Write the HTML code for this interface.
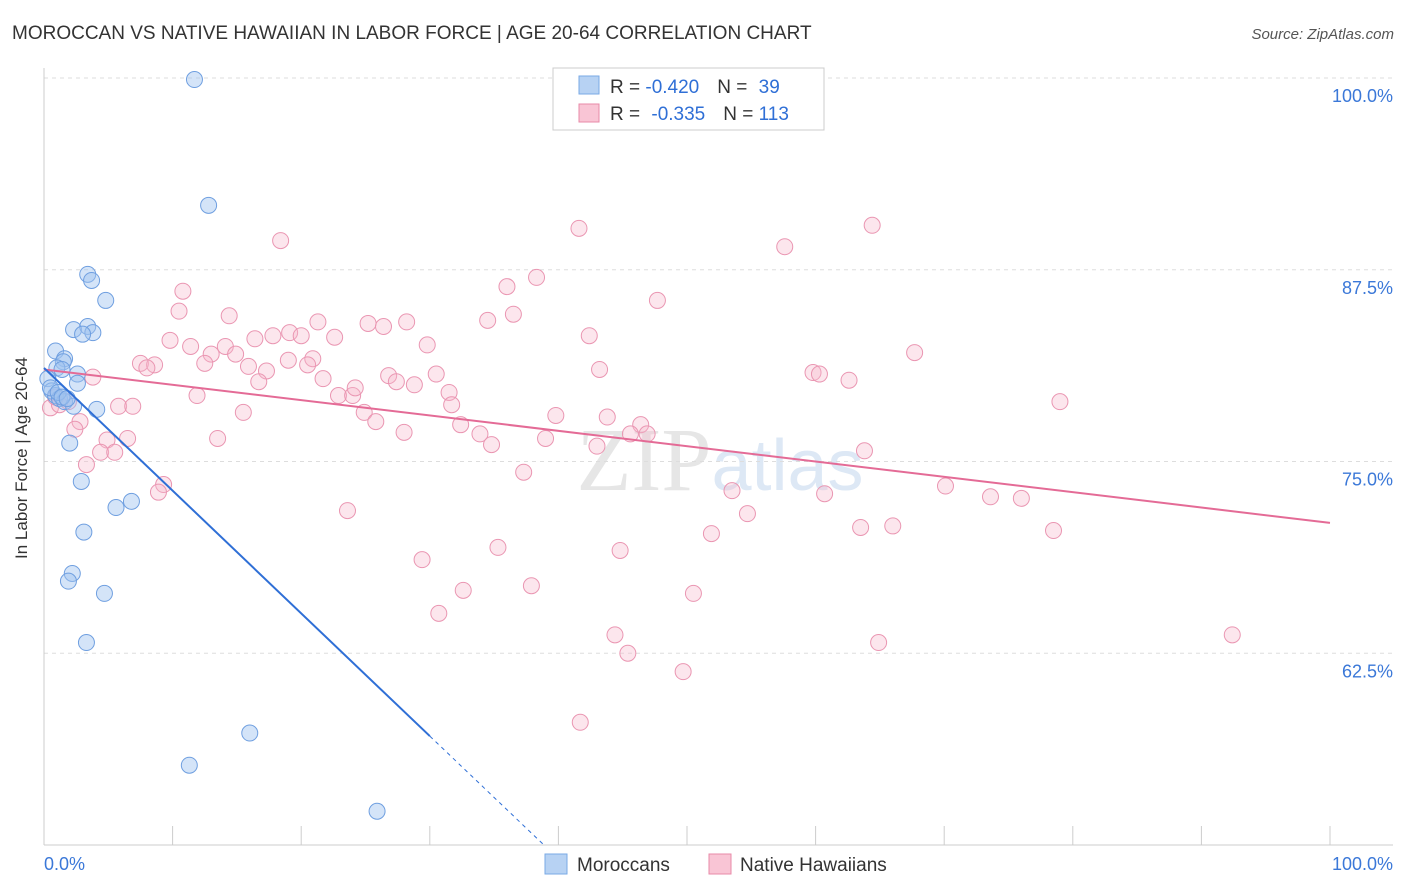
<!DOCTYPE html>
<html><head><meta charset="utf-8"><style>
body{margin:0;background:#fff;font-family:"Liberation Sans",sans-serif}
svg{display:block}
</style></head><body>
<svg id="chart" width="1406" height="892">
<text x="12" y="39" font-size="19" fill="#333">MOROCCAN VS NATIVE HAWAIIAN IN LABOR FORCE | AGE 20-64 CORRELATION CHART</text>
<text x="1394" y="39" font-size="15" fill="#555" font-style="italic" text-anchor="end">Source: ZipAtlas.com</text>
<text x="720" y="490" font-size="90" fill="#e6e6e6" text-anchor="middle" font-family="Liberation Serif">ZIP<tspan fill="#dde8f5" font-family="Liberation Sans" font-size="72">atlas</tspan></text>
<g id="grid"></g><g id="axes"></g><g id="pts"></g><g id="lines"></g>
<text x="27" y="458" font-size="17" fill="#333" text-anchor="middle" transform="rotate(-90 27 458)">In Labor Force | Age 20-64</text>
<g>
<rect x="553" y="68" width="271" height="62" fill="#fff" stroke="#ccc"/>
<rect x="579" y="76" width="20" height="18" fill="#b7d2f3" stroke="#7aaae6"/>
<rect x="579" y="104" width="20" height="18" fill="#f9c5d5" stroke="#e88aa8"/>
<text x="610" y="93" font-size="19" fill="#333">R = <tspan fill="#2f6fd6">-0.420</tspan><tspan dx="18">N = </tspan><tspan fill="#2f6fd6" dx="6">39</tspan></text>
<text x="610" y="120" font-size="19" fill="#333">R = <tspan fill="#2f6fd6" dx="6">-0.335</tspan><tspan dx="18">N = </tspan><tspan fill="#2f6fd6">113</tspan></text>
</g>
<g>
<rect x="545" y="854" width="22" height="20" fill="#b7d2f3" stroke="#7aaae6"/>
<text x="577" y="871" font-size="19" fill="#333">Moroccans</text>
<rect x="709" y="854" width="22" height="20" fill="#f9c5d5" stroke="#e88aa8"/>
<text x="740" y="871" font-size="19" fill="#333">Native Hawaiians</text>
</g>
</svg>
<script>
const yTicks=[100,87.5,75,62.5];
const yTickLabels=["100.0%","87.5%","75.0%","62.5%"];
const blueX=[11.7,12.8,3.4,3.7,4.8,2.3,3.4,3.8,3.0,0.9,1.6,1.5,1.0,1.4,2.6,0.3,2.6,0.6,0.9,1.2,1.6,2.3,4.1,2.0,2.9,5.6,6.8,3.1,2.2,1.9,4.7,3.3,16.0,11.3,25.9,0.5,1.1,1.4,1.8];
const blueY=[99.9,91.7,87.2,86.8,85.5,83.6,83.8,83.4,83.3,82.2,81.7,81.5,81.1,81.0,80.7,80.4,80.1,79.6,79.3,79.1,78.9,78.6,78.4,76.2,73.7,72.0,72.4,70.4,67.7,67.2,66.4,63.2,57.3,55.2,52.2,79.8,79.5,79.2,79.1];
const pinkX=[18.4,41.6,64.4,57.6,38.3,36.0,10.8,47.7,10.5,14.4,34.5,36.5,21.3,25.2,26.4,28.2,42.4,9.8,11.4,14.1,16.4,17.8,19.1,20.0,22.6,29.8,67.7,13.0,14.9,19.0,20.9,12.5,7.5,8.6,8.0,20.5,15.9,17.3,43.2,59.8,60.3,62.6,3.8,21.7,26.8,27.4,30.5,28.8,16.7,11.9,22.9,24.0,24.2,31.5,79.0,5.8,6.9,31.7,15.5,24.9,39.8,43.8,2.8,25.8,32.4,46.4,2.4,45.6,46.9,28.0,33.9,39.0,34.8,43.0,4.9,6.5,13.5,4.4,5.5,3.3,63.8,37.3,9.3,8.9,53.5,60.7,70.1,73.6,76.0,23.6,54.7,63.5,66.0,78.5,51.9,35.3,44.8,29.4,37.9,32.6,50.5,30.7,44.4,92.4,64.9,45.4,49.7,41.7,0.5,1.2,1.9,0.9];
const pinkY=[89.4,90.2,90.4,89.0,87.0,86.4,86.1,85.5,84.8,84.5,84.2,84.6,84.1,84.0,83.8,84.1,83.2,82.9,82.5,82.5,83.0,83.2,83.4,83.2,83.1,82.6,82.1,82.0,82.0,81.6,81.7,81.4,81.4,81.3,81.1,81.3,81.2,80.9,81.0,80.8,80.7,80.3,80.5,80.4,80.6,80.2,80.7,80.0,80.2,79.3,79.3,79.3,79.8,79.5,78.9,78.6,78.6,78.7,78.2,78.2,78.0,77.9,77.6,77.6,77.4,77.4,77.1,76.8,76.8,76.9,76.8,76.5,76.1,76.0,76.4,76.5,76.5,75.6,75.6,74.8,75.7,74.3,73.5,73.0,73.1,72.9,73.4,72.7,72.6,71.8,71.6,70.7,70.8,70.5,70.3,69.4,69.2,68.6,66.9,66.6,66.4,65.1,63.7,63.7,63.2,62.5,61.3,58.0,78.5,78.7,78.9,79.2];
const blueTrend=[81.1,-0.80];
const pinkTrend=[81.0,-0.10];
const NS="http://www.w3.org/2000/svg";
const X0=44,X1=1330,Y0=845,Y1=78,YMIN=50,YMAX=100;
const sx=v=>X0+(v/100)*(X1-X0);
const sy=v=>Y0-(v-YMIN)/(YMAX-YMIN)*(Y0-Y1);
function mk(t,a,p){const e=document.createElementNS(NS,t);for(const k in a)e.setAttribute(k,a[k]);p.appendChild(e);return e;}
const grid=document.getElementById('grid'),axes=document.getElementById('axes'),pts=document.getElementById('pts'),lines=document.getElementById('lines');
yTicks.forEach((t,i)=>{
 const l=mk('line',{x1:X0,x2:1393,y1:sy(t),y2:sy(t),stroke:'#ddd','stroke-dasharray':'4,4'},grid);
 
 
 const tx=mk('text',{x:1393,y:sy(t)+24,'font-size':18,fill:'#3b78d8','text-anchor':'end'},grid);
 tx.textContent=yTickLabels[i];
 
 
});
const ax=mk('line',{x1:X0,x2:1393,y1:Y0,y2:Y0,stroke:'#ccc'},axes);


const ay=mk('line',{x1:X0,x2:X0,y1:68,y2:Y0,stroke:'#ccc'},axes);


for(let i=0;i<=10;i++){
 const tk=mk('line',{x1:sx(i*10),x2:sx(i*10),y1:826,y2:Y0,stroke:'#ccc'},axes);
 
 
}
[["0.0%",X0,'start'],["100.0%",1393,'end']].forEach(d=>{
 const t=mk('text',{x:d[1],y:870,'font-size':18,fill:'#3b78d8','text-anchor':d[2]},axes);
 t.textContent=d[0];
 
 
});
pinkX.forEach((v,i)=>{
 const c=mk('circle',{cx:sx(v),cy:sy(pinkY[i]),r:8,fill:'rgba(247,182,203,0.35)',stroke:'#ea96b2','stroke-width':1},pts);
 
 
});
blueX.forEach((v,i)=>{
 const c=mk('circle',{cx:sx(v),cy:sy(blueY[i]),r:8,fill:'rgba(160,196,240,0.45)',stroke:'#6f9fe0','stroke-width':1},pts);
 
 
});
const pl=mk('line',{x1:sx(0),y1:sy(pinkTrend[0]),x2:sx(100),y2:sy(pinkTrend[0]+pinkTrend[1]*100),stroke:'#e46b96','stroke-width':2},lines);


const bEnd=30, xz=(YMIN-blueTrend[0])/blueTrend[1];
const bl=mk('line',{x1:sx(0),y1:sy(blueTrend[0]),x2:sx(bEnd),y2:sy(blueTrend[0]+blueTrend[1]*bEnd),stroke:'#2f6fd6','stroke-width':2},lines);


const bd=mk('line',{x1:sx(bEnd),y1:sy(blueTrend[0]+blueTrend[1]*bEnd),x2:sx(xz),y2:sy(YMIN),stroke:'#2f6fd6','stroke-width':1,'stroke-dasharray':'4,4'},lines);


</script>
</body></html>
